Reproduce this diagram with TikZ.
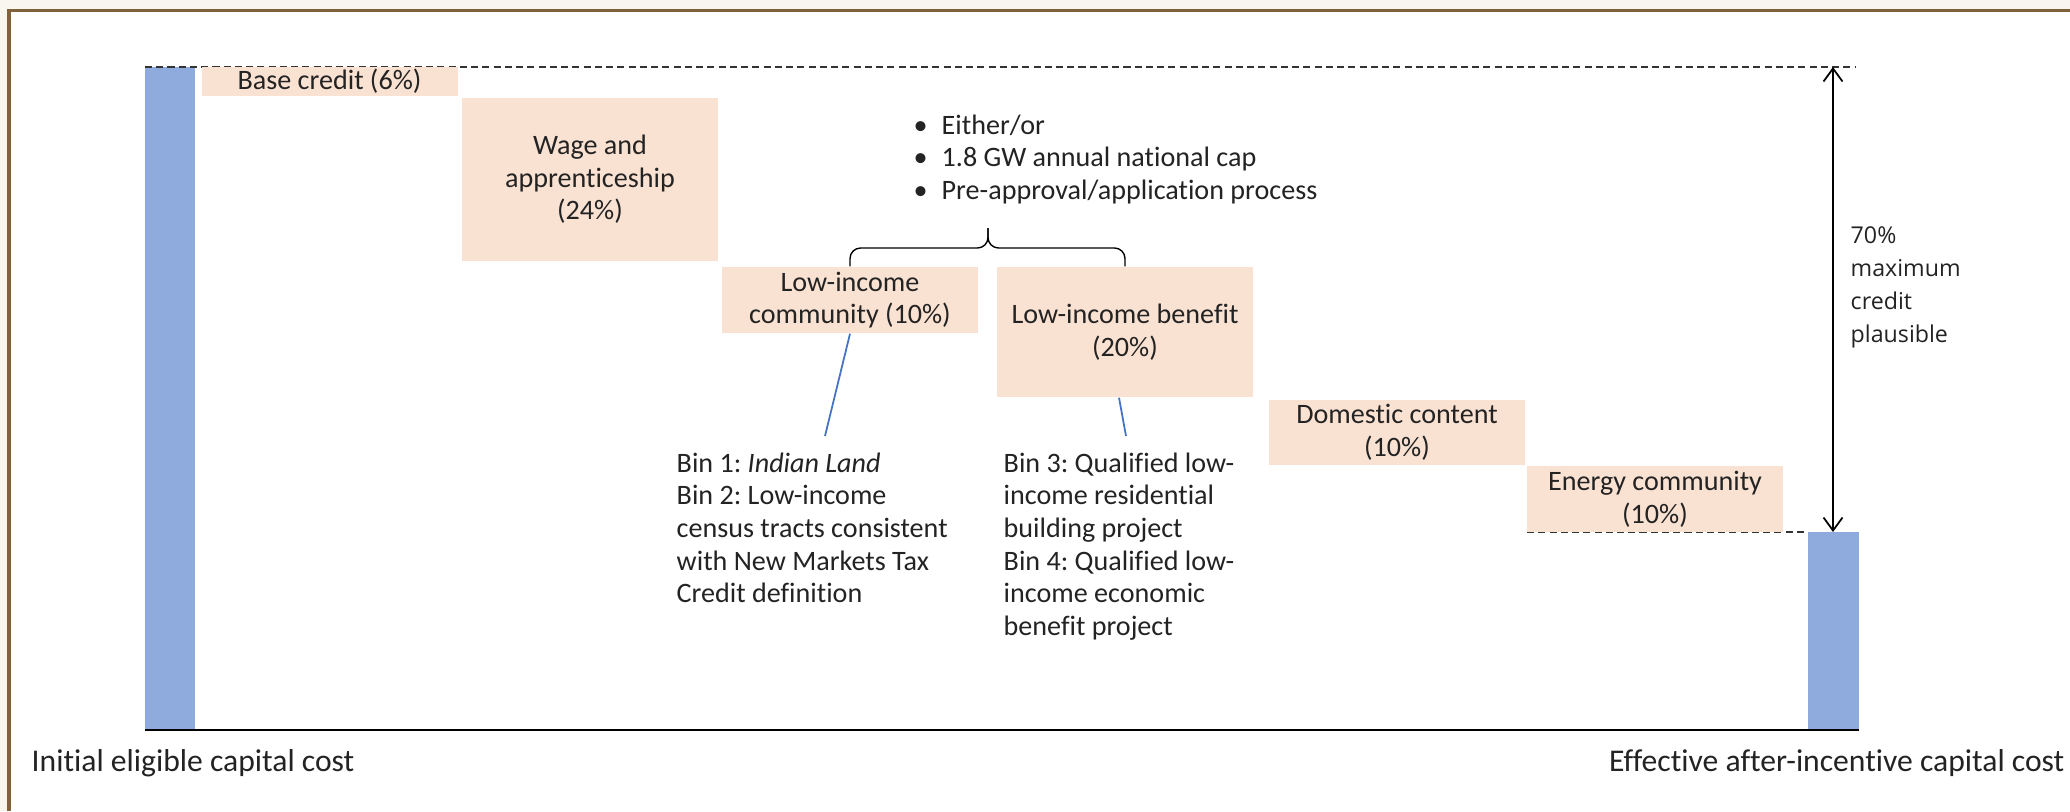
\documentclass[tikz,border=0pt]{standalone}
\usepackage{fontspec}
\usetikzlibrary{arrows.meta}
\setmainfont[Ligatures=NoCommon]{Carlito}
\newfontfamily\notefont{Open Sans}
\frenchspacing
\definecolor{barblue}{RGB}{143,170,220}
\definecolor{peach}{RGB}{250,226,211}
\definecolor{framebrown}{RGB}{128,98,58}
\definecolor{paper}{RGB}{248,246,238}
\definecolor{linkblue}{RGB}{68,114,196}
\definecolor{ink}{RGB}{35,35,35}
\begin{document}
\begin{tikzpicture}[text=ink,
        box/.style={fill=peach,minimum width=2.56cm,inner sep=0pt,align=center,font=\fontsize{8}{9.3}\selectfont},
        note/.style={align=left,inner sep=0pt,anchor=north west,font=\fontsize{8}{9.3}\selectfont},
        link/.style={linkblue,line width=0.5pt},
        guide/.style={dash pattern=on 2pt off 1.2pt,line width=0.5pt,black!80}]
        \useasboundingbox (0,0) rectangle (20.7,-8.11);
        % frame
        \fill[paper] (0,0) rectangle (20.7,-8.11);
        \fill[white] (0.09,-0.105) rectangle (20.7,-8.11);
        \draw[framebrown,line width=1.1pt] (0.09,-8.11) -- (0.09,-0.105) -- (20.7,-0.105);
        % bars and axis
        \fill[barblue] (1.45,-0.67) rectangle (1.95,-7.30);
        \fill[barblue] (18.08,-5.32) rectangle (18.59,-7.30);
        \draw[line width=0.8pt] (1.45,-7.30) -- (18.59,-7.30);
        \draw[guide] (1.45,-0.67) -- (18.56,-0.67);
        \draw[guide] (15.27,-5.32) -- (18.08,-5.32);
        % steps
        \node[box,minimum height=0.29cm] (base) at (3.295,-0.815) {Base credit (6\%)};
        \node[box,minimum height=1.63cm] (wage) at (5.90,-1.795) {Wage and\\apprenticeship\\(24\%)};
        \node[box,minimum height=0.66cm] (lic) at (8.50,-3.00) {Low-income\\community (10\%)};
        \node[box,minimum height=1.30cm] (lib) at (11.25,-3.32) {Low-income benefit\\(20\%)};
        \node[box,minimum height=0.65cm] (dom) at (13.97,-4.325) {Domestic content\\(10\%)};
        \node[box,minimum height=0.66cm] (energy) at (16.55,-4.99) {Energy community\\(10\%)};
        % either/or
        \node[note] (points) at (9.13,-1.14) {\textbullet\hspace{1.4mm}Either/or\\\textbullet\hspace{1.4mm}1.8 GW annual national cap\\\textbullet\hspace{1.4mm}Pre-approval/application process};
        \coordinate (tip) at (9.88,-2.28);
        \draw[rounded corners=3pt] (lic.north) |- (9.88,-2.48) -- (tip);
        \draw[rounded corners=3pt] (tip) -- (9.88,-2.48) -| (lib.north);
        % bins
        \node[note] (bin1) at (6.76,-4.52) {Bin 1: \textit{Indian Land}\\Bin 2: Low-income\\census tracts consistent\\with New Markets Tax\\Credit definition};
        \node[note] (bin3) at (10.03,-4.52) {Bin 3: Qualified low-\\income residential\\building project\\Bin 4: Qualified low-\\income economic\\benefit project};
        \coordinate (p1) at (8.25,-4.36);
        \coordinate (p2) at (11.26,-4.36);
        \draw[link] (lic.south) -- (p1);
        \draw[link] ([xshift=-0.6mm]lib.south) -- (p2);
        % maximum credit
        \coordinate (top) at (18.33,-0.67);
        \coordinate (low) at (18.33,-5.32);
        \draw[{Straight Barb[length=1.3mm,width=1.9mm]}-{Straight Barb[length=1.3mm,width=1.9mm]},line width=0.5pt] (top) -- (low);
        \node[note,font=\notefont\fontsize{6.6}{9.4}\selectfont] (maxnote) at (18.50,-2.26) {70\%\\maximum\\credit\\plausible};
        % axis labels
        \node[anchor=west,inner sep=0pt,font=\fontsize{9}{11}\selectfont] (initial) at (0.31,-7.63) {Initial eligible capital cost};
        \node[anchor=east,inner sep=0pt,font=\fontsize{9}{11}\selectfont] (effective) at (20.65,-7.63) {Effective after-incentive capital cost};
\end{tikzpicture}
\end{document}
